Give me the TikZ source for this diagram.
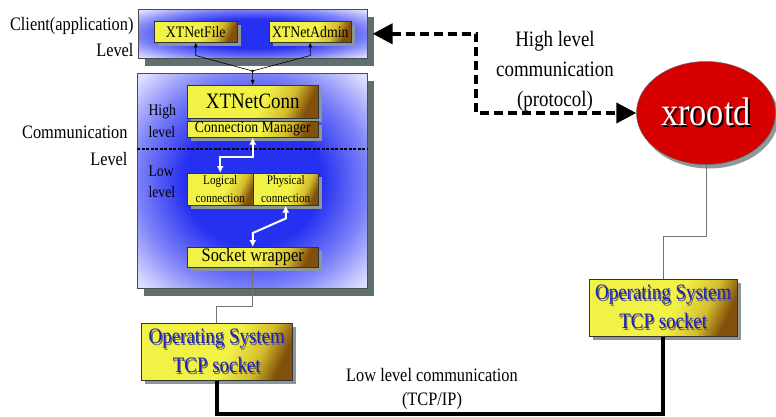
\documentclass[tikz,border=0pt]{standalone}
\usepackage{fontspec}
\setmainfont{Liberation Serif}[FakeStretch=0.86]
\usetikzlibrary{shapes.geometric,shadows,arrows.meta,calc}

\definecolor{lvlout}{RGB}{222,222,255}
\definecolor{lvlmid}{RGB}{125,130,248}
\definecolor{lvlin}{RGB}{38,48,240}
\definecolor{ylw}{RGB}{242,242,70}
\definecolor{ymid}{RGB}{212,188,45}
\definecolor{brn}{RGB}{130,80,10}
\definecolor{shblue}{RGB}{95,110,110}
\definecolor{shyel}{RGB}{140,150,150}
\definecolor{osblue}{RGB}{30,30,190}
\definecolor{xred}{RGB}{215,0,0}

% radial fill of the two level panels: saturated blue core, pale rim
\pgfdeclareradialshading{levelfill}{\pgfpoint{0bp}{0bp}}{color(0bp)=(lvlin); color(15bp)=(lvlin); color(25bp)=(lvlmid); color(34bp)=(lvlout); color(50bp)=(lvlout)}
% yellow component boxes darkening towards the lower right corner
\pgfdeclarehorizontalshading{ybox}{100bp}{color(0bp)=(ylw); color(54bp)=(ylw); color(67bp)=(ymid); color(76bp)=(brn); color(100bp)=(brn)}

% text with a small offset shadow behind it
\newcommand{\shadowed}[3]{\rlap{\hspace{#1}\raisebox{-#1}{\color{#2}#3}}#3}

\tikzset{
  levelbox/.style={draw=black!70, line width=0.6pt, shading=levelfill,
    drop shadow={shadow xshift=7pt, shadow yshift=-8pt, fill=shblue, opacity=1},
    anchor=north west, inner sep=0pt},
  compbox/.style={draw=black!80, line width=0.5pt, shading=ybox, shading angle=-25,
    drop shadow={shadow xshift=3.5pt, shadow yshift=-3.5pt, fill=shyel, opacity=1},
    anchor=north west, inner sep=0pt, align=center},
  thinarrow/.style={draw=black, line width=0.6pt, -{Latex[length=5pt,width=4pt]}},
  whitearrow/.style={draw=white, line width=2pt, {Latex[length=7pt,width=7pt]}-{Latex[length=7pt,width=7pt]}},
  thinwire/.style={draw=black!55, line width=0.6pt},
  tcpwire/.style={draw=black, line width=4pt},
  protoarrow/.style={draw=black, line width=4pt, dash pattern=on 9pt off 5pt,
    {Triangle[length=20pt,width=20pt]}-{Triangle[length=20pt,width=20pt]}},
  sepline/.style={draw=black, line width=2.5pt, dash pattern=on 3pt off 1.5pt},
}

\begin{document}
\begin{tikzpicture}[x=1pt, y=-1pt]
\useasboundingbox[fill=white] (0,0) rectangle (776,417);

% level panels
\node[levelbox, minimum width=229pt, minimum height=49pt] (client) at (138,9) {};
\node[levelbox, minimum width=230pt, minimum height=215pt] (comm) at (137,73) {};

% components
\node[compbox, minimum width=83pt, minimum height=21pt, font=\fontsize{16}{18}\selectfont] (file) at (154,21) {XTNetFile};
\node[compbox, minimum width=82pt, minimum height=21pt, font=\fontsize{16}{18}\selectfont] (admin) at (269,21) {XTNetAdmin};
\node[compbox, minimum width=131pt, minimum height=33pt, font=\fontsize{22}{24}\selectfont] (conn) at (187,85) {XTNetConn};
\node[compbox, minimum width=131pt, minimum height=16pt, font=\fontsize{16}{18}\selectfont] (mgr) at (187,121) {Connection Manager};
\node[compbox, minimum width=66pt, minimum height=32pt, font=\fontsize{13}{18}\selectfont] (logical) at (187,173) {Logical\\connection};
\node[compbox, minimum width=65pt, minimum height=32pt, font=\fontsize{13}{18}\selectfont] (physical) at (253,173) {Physical\\connection};
\node[compbox, minimum width=131pt, minimum height=20pt, font=\fontsize{19}{21}\selectfont] (sock) at (187,247) {Socket wrapper};
\node[compbox, minimum width=151pt, minimum height=57pt, text=osblue, font=\fontsize{22}{29}\selectfont] (osL) at (141,323)
  {\shadowed{1.3pt}{black!60}{Operating System}\\\shadowed{1.3pt}{black!60}{TCP socket}};
\node[compbox, minimum width=148pt, minimum height=57pt, text=osblue, font=\fontsize{22}{29}\selectfont] (osR) at (589,279)
  {\shadowed{1.3pt}{black!60}{Operating System}\\\shadowed{1.3pt}{black!60}{TCP socket}};

% server
\node[ellipse, draw=black!60, line width=0.5pt, fill=xred, minimum width=139pt, minimum height=103pt, inner sep=0pt,
  drop shadow={shadow xshift=3pt, shadow yshift=-4pt, fill=shblue!70, opacity=1},
  text=white, font=\fontsize{40}{42}\selectfont] (xrootd) at (706,113) {\shadowed{2pt}{black}{xrootd}};

% high / low level separator
\draw[sepline] ($(comm.north west)+(0,76)$) -- ($(comm.north east)+(0,76)$);

% labels
\node[anchor=east, align=right, font=\fontsize{19}{26}\selectfont] (lblclient) at (137,37) {Client(application)\\Level};
\node[anchor=east, align=right, font=\fontsize{19}{27}\selectfont] (lblcomm) at (131,146) {Communication\\Level};
\node[anchor=west, align=left, font=\fontsize{16}{22}\selectfont] (lblhigh) at (145,121) {High\\level};
\node[anchor=west, align=left, font=\fontsize{16}{21}\selectfont] (lbllow) at (145,182) {Low\\level};
\node[align=center, font=\fontsize{22}{30}\selectfont] (lblproto) at (555,71) {High level\\communication\\(protocol)};
\node[align=center, font=\fontsize{19}{24}\selectfont] (lbltcp) at (432,389) {Low level communication\\(TCP/IP)};

% client-side calls
\coordinate (J) at (252.5,71);
\fill (J) circle (1.3pt);
\draw[thinarrow] (J) -- ($(file.south)+(0,13)$) -- (file.south);
\draw[thinarrow] (J) -- ($(admin.south)+(0,13)$) -- (admin.south);
\draw[thinarrow] (J) -- (conn.north);

% internal links
\draw[whitearrow] (mgr.south) -- ++(0,19) -| (logical.north);
\draw[whitearrow] (physical.south) -- ++(0,13) -- ($(sock.north)+(0,-14)$) -- (sock.north);

% wiring to the operating system
\draw[thinwire] (sock.south) -- ++(0,39) -| (osL.north);
\draw[thinwire] (xrootd.south) -- ++(0,72) -| (osR.north);
\draw[tcpwire] (osL.south) -- ++(0,33) -| (osR.south);

% protocol link
\draw[protoarrow] ($(client.east)+(5,0)$) -| ($(xrootd.west)+(-160,0)$) -- (xrootd.west);
\end{tikzpicture}
\end{document}
